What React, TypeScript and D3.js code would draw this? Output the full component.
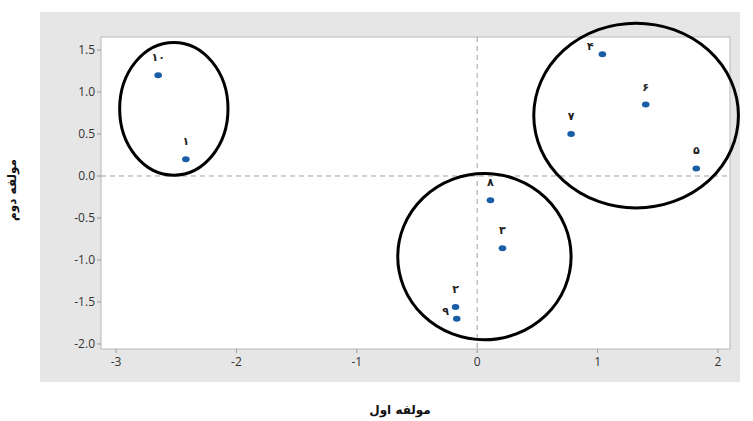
import React from 'react';
import * as d3 from 'd3';

// component scores
const pointIds = [1, 2, 3, 4, 5, 6, 7, 8, 9, 10];
const pc1 = [-2.42, -0.18, 0.21, 1.04, 1.82, 1.4, 0.78, 0.11, -0.17, -2.65];
const pc2 = [0.2, -1.56, -0.86, 1.45, 0.09, 0.85, 0.5, -0.29, -1.7, 1.2];
const pointLabels = ['۱', '۲', '۳', '۴', '۵', '۶', '۷', '۸', '۹', '۱۰'];

// hand-drawn cluster rings (centre x, centre y, radius x, radius y in data units)
const clusterCx = [-2.52, 0.06, 1.32];
const clusterCy = [0.8, -0.96, 0.72];
const clusterRx = [0.45, 0.72, 0.85];
const clusterRy = [0.79, 0.99, 1.1];

const xTicks = [-3, -2, -1, 0, 1, 2];
const yTicks = [1.5, 1.0, 0.5, 0.0, -0.5, -1.0, -1.5, -2.0];

const xTitle = 'مولفه اول';
const yTitle = 'مولفه دوم';

const W = 753;
const H = 421;
const plot = {left: 101, right: 730, top: 37, bottom: 349};

const App: React.FC = () => {
  const x = d3.scaleLinear().domain([-3.125, 2.1]).range([plot.left, plot.right]);
  const y = d3.scaleLinear().domain([-2.06, 1.655]).range([plot.bottom, plot.top]);

  const points = pointIds.map((id, i) => ({
    id,
    px: x(pc1[i]),
    py: y(pc2[i]),
    label: pointLabels[i],
  }));

  // label offsets (most sit above the dot)
  const labelPos = (id: number, px: number, py: number) => {
    if (id === 9) return [px - 11, py - 4];
    if (id === 4) return [px - 12, py - 4];
    return [px, py - 14];
  };

  return (
    <svg width={W} height={H} style={{position: 'absolute', left: 0, top: 0}}>
      <rect x={0} y={0} width={W} height={H} fill="#ffffff" />
      <rect x={40} y={12} width={700} height={370} fill="#e6e6e6" />
      <rect
        x={plot.left}
        y={plot.top}
        width={plot.right - plot.left}
        height={plot.bottom - plot.top}
        fill="#ffffff"
        stroke="#b8b8b8"
        strokeWidth={1}
      />

      {/* reference lines */}
      <line x1={plot.left} x2={plot.right} y1={y(0)} y2={y(0)} stroke="#a0a0a0" strokeDasharray="5,4" />
      <line x1={x(0)} x2={x(0)} y1={plot.top} y2={plot.bottom} stroke="#a0a0a0" strokeDasharray="5,4" />

      {/* x axis */}
      {xTicks.map((t) => (
        <g key={'x' + t}>
          <line x1={x(t)} x2={x(t)} y1={plot.bottom} y2={plot.bottom + 4} stroke="#999" />
          <text
            x={x(t)}
            y={plot.bottom + 17}
            textAnchor="middle"
            fontFamily="'Open Sans', 'DejaVu Sans', sans-serif"
            fontSize={12}
            fill="#333"
          >
            {t < 0 ? '-' + Math.abs(t) : t}
          </text>
        </g>
      ))}

      {/* y axis */}
      {yTicks.map((t) => (
        <g key={'y' + t}>
          <line x1={plot.left - 4} x2={plot.left} y1={y(t)} y2={y(t)} stroke="#999" />
          <text
            x={plot.left - 6}
            y={y(t) + 4}
            textAnchor="end"
            fontFamily="'Open Sans', 'DejaVu Sans', sans-serif"
            fontSize={12}
            fill="#333"
          >
            {t.toFixed(1)}
          </text>
        </g>
      ))}

      {/* points */}
      {points.map((p) => (
        <ellipse key={'p' + p.id} cx={p.px} cy={p.py} rx={3.8} ry={3} fill="#1a5ea8" />
      ))}

      {points.map((p) => {
        const [lx, ly] = labelPos(p.id, p.px, p.py);
        return (
          <text
            key={'l' + p.id}
            x={lx}
            y={ly}
            textAnchor="middle"
            fontFamily="'DejaVu Sans', sans-serif"
            fontWeight="bold"
            fontSize={11}
            fill="#222"
          >
            {p.label}
          </text>
        );
      })}

      {/* cluster rings */}
      {clusterCx.map((cx, i) => (
        <ellipse
          key={'c' + i}
          cx={x(cx)}
          cy={y(clusterCy[i])}
          rx={x(cx + clusterRx[i]) - x(cx)}
          ry={y(clusterCy[i] - clusterRy[i]) - y(clusterCy[i])}
          fill="none"
          stroke="#000"
          strokeWidth={3}
        />
      ))}

      {/* axis titles */}
      <text
        x={400}
        y={414}
        textAnchor="middle"
        fontFamily="'DejaVu Sans', sans-serif"
        fontWeight="bold"
        fontSize={12}
        fill="#111"
      >
        {xTitle}
      </text>
      <text
        transform={`translate(16, ${190}) rotate(-90)`}
        textAnchor="middle"
        fontFamily="'DejaVu Sans', sans-serif"
        fontWeight="bold"
        fontSize={12}
        fill="#111"
      >
        {yTitle}
      </text>
    </svg>
  );
};

export default App;
